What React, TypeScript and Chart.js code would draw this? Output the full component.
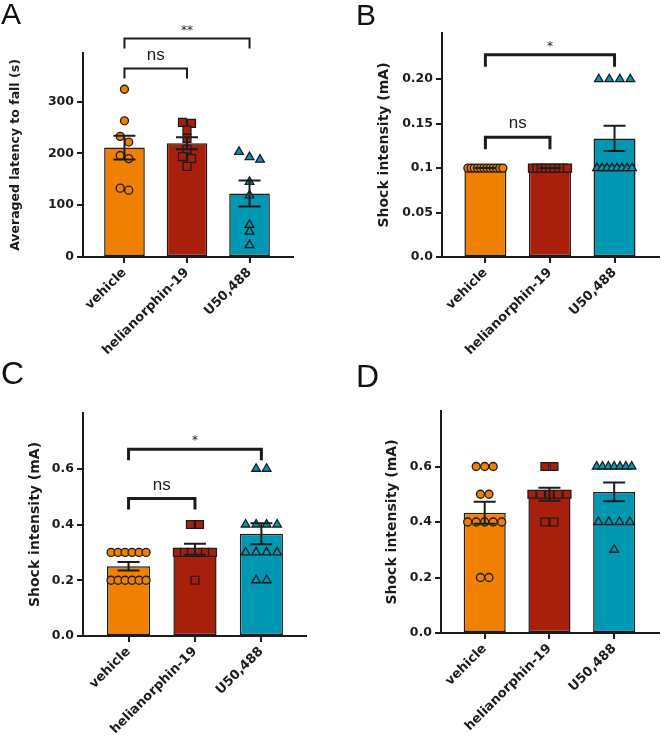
import React, { useEffect, useRef } from "react";
import { Chart, registerables } from "chart.js";

Chart.register(...registerables);

// ---------------- data ----------------
const categories = ["vehicle", "helianorphin-19", "U50,488"];

// Panel A: averaged latency to fall (s)
const latencyVehicle = [324, 263, 233, 222, 196, 190, 133, 129];
const latencyHelianorphin = [260, 258, 245, 229, 208, 194, 190, 175];
const latencyU50488 = [203, 193, 188, 145, 119, 62, 49, 23];
const latencyTickValues = [0, 100, 200, 300];
const latencyTickLabels = ["0", "100", "200", "300"];

// Panel B: shock intensity (mA)
const shockBVehicle = [0.1, 0.1, 0.1, 0.1, 0.1, 0.1, 0.1, 0.1, 0.1, 0.1, 0.1, 0.1];
const shockBHelianorphin = [0.1, 0.1, 0.1, 0.1, 0.1, 0.1, 0.1, 0.1, 0.1];
const shockBU50488 = [0.2, 0.2, 0.2, 0.2, 0.1, 0.1, 0.1, 0.1, 0.1, 0.1, 0.1, 0.1];
const shockBTickValues = [0, 0.05, 0.1, 0.15, 0.2];
const shockBTickLabels = ["0.0", "0.05", "0.1", "0.15", "0.20"];

// Panel C: shock intensity (mA)
const shockCVehicle = [0.3, 0.3, 0.3, 0.3, 0.3, 0.3, 0.2, 0.2, 0.2, 0.2, 0.2, 0.2];
const shockCHelianorphin = [0.4, 0.4, 0.3, 0.3, 0.3, 0.3, 0.3, 0.3, 0.2];
const shockCU50488 = [0.6, 0.6, 0.4, 0.4, 0.4, 0.4, 0.3, 0.3, 0.3, 0.3, 0.2, 0.2];

// Panel D: shock intensity (mA)
const shockDVehicle = [0.6, 0.6, 0.6, 0.5, 0.5, 0.4, 0.4, 0.4, 0.4, 0.4, 0.2, 0.2];
const shockDHelianorphin = [0.6, 0.6, 0.5, 0.5, 0.5, 0.5, 0.5, 0.4, 0.4];
const shockDU50488 = [0.6, 0.6, 0.6, 0.6, 0.6, 0.6, 0.6, 0.4, 0.4, 0.4, 0.4, 0.3];

const shockCDTickValues = [0, 0.2, 0.4, 0.6];
const shockCDTickLabels = ["0.0", "0.2", "0.4", "0.6"];

// significance brackets (from group, to group, height in data units, label)
const bracketsA = [
  { from: 0, to: 1, y: 364, label: "ns" },
  { from: 0, to: 2, y: 422, label: "**" },
];
const bracketsB = [
  { from: 0, to: 1, y: 0.1346, label: "ns" },
  { from: 0, to: 2, y: 0.2274, label: "*" },
];
const bracketsC = [
  { from: 0, to: 1, y: 0.493, label: "ns" },
  { from: 0, to: 2, y: 0.67, label: "*" },
];

// ---------------- styles / layout ----------------
const EDGE = "#1c1c1c";
const GROUP_STYLES = [
  { color: "#F08000", shape: "circle", radius: 4, spacing: 8.5 },
  { color: "#A81F0C", shape: "rect", radius: 5.6, spacing: 9 },
  { color: "#0097B3", shape: "triangle", radius: 5, spacing: 10.5 },
];
const TICK_FONT = { family: "'DejaVu Sans', sans-serif", size: 12.5, weight: "bold" as const };
const XLABEL_FONT = { family: "'DejaVu Sans', sans-serif", size: 13, weight: "bold" as const };

type PanelCfg = {
  letter: string;
  letterPos: { left: number; top: number; size: number };
  area: { left: number; top: number; right: number; bottom: number };
  yAxisWidth: number;
  yMax: number;
  xMin: number;
  xMax: number;
  groups: number[][];
  tickValues: number[];
  tickLabels: string[];
  title: string;
  titleSize: number;
  brackets: { from: number; to: number; y: number; label: string }[];
  bracketLine: number;
  bracketLeg: number;
};

const PANELS: PanelCfg[] = [
  {
    letter: "A",
    letterPos: { left: 1, top: -1, size: 30 },
    area: { left: 83, top: 53, right: 293, bottom: 257 },
    yAxisWidth: 75,
    yMax: 394,
    xMin: -0.663,
    xMax: 2.695,
    groups: [latencyVehicle, latencyHelianorphin, latencyU50488],
    tickValues: latencyTickValues,
    tickLabels: latencyTickLabels,
    title: "Averaged latency to fall (s)",
    titleSize: 12.5,
    brackets: bracketsA,
    bracketLine: 2,
    bracketLeg: 10,
  },
  {
    letter: "B",
    letterPos: { left: 356, top: 0, size: 30 },
    area: { left: 442, top: 33, right: 666, bottom: 257 },
    yAxisWidth: 66,
    yMax: 0.252,
    xMin: -0.672,
    xMax: 2.69,
    groups: [shockBVehicle, shockBHelianorphin, shockBU50488],
    tickValues: shockBTickValues,
    tickLabels: shockBTickLabels,
    title: "Shock intensity (mA)",
    titleSize: 14,
    brackets: bracketsB,
    bracketLine: 3,
    bracketLeg: 12,
  },
  {
    letter: "C",
    letterPos: { left: 1, top: 357, size: 32 },
    area: { left: 83, top: 413, right: 306, bottom: 636 },
    yAxisWidth: 56,
    yMax: 0.8,
    xMin: -0.686,
    xMax: 2.672,
    groups: [shockCVehicle, shockCHelianorphin, shockCU50488],
    tickValues: shockCDTickValues,
    tickLabels: shockCDTickLabels,
    title: "Shock intensity (mA)",
    titleSize: 14,
    brackets: bracketsC,
    bracketLine: 3,
    bracketLeg: 11,
  },
  {
    letter: "D",
    letterPos: { left: 356, top: 360, size: 32 },
    area: { left: 441, top: 411, right: 666, bottom: 633 },
    yAxisWidth: 57,
    yMax: 0.8,
    xMin: -0.675,
    xMax: 2.694,
    groups: [shockDVehicle, shockDHelianorphin, shockDU50488],
    tickValues: shockCDTickValues,
    tickLabels: shockCDTickLabels,
    title: "Shock intensity (mA)",
    titleSize: 14,
    brackets: [],
    bracketLine: 3,
    bracketLeg: 11,
  },
];

const CANVAS_W = 666;
const CANVAS_H = 746;
const X_AXIS_HEIGHT = 100;

function mean(v: number[]) {
  return v.reduce((a, b) => a + b, 0) / v.length;
}
function sem(v: number[]) {
  const m = mean(v);
  if (v.length < 2) return 0;
  const ss = v.reduce((a, b) => a + (b - m) * (b - m), 0);
  return Math.sqrt(ss / (v.length - 1)) / Math.sqrt(v.length);
}

// horizontal row layout of points sharing (almost) the same value
function rowOffsets(values: number[], toPx: (v: number) => number, spacing: number, maxSpread: number) {
  const order = values.map((_, i) => i).sort((a, b) => values[b] - values[a]);
  const offsets = new Array(values.length).fill(0);
  let row: number[] = [];
  let last: number | null = null;
  const flush = () => {
    const n = row.length;
    const s = n > 1 ? Math.min(spacing, maxSpread / (n - 1)) : 0;
    row.forEach((k, j) => {
      offsets[k] = (j - (n - 1) / 2) * s;
    });
    row = [];
  };
  for (const k of order) {
    const py = toPx(values[k]);
    if (last !== null && Math.abs(py - last) >= 6) flush();
    row.push(k);
    last = py;
  }
  flush();
  return offsets;
}

function Panel({ cfg }: { cfg: PanelCfg }) {
  const ref = useRef<HTMLCanvasElement>(null);
  useEffect(() => {
    const canvas = ref.current;
    if (!canvas) return;
    const { area } = cfg;

    const semPlugin = {
      id: "semBars",
      afterDatasetsDraw(chart: any) {
        const { ctx } = chart;
        const xs = chart.scales.x;
        const ys = chart.scales.y;
        ctx.save();
        ctx.strokeStyle = EDGE;
        ctx.lineWidth = 2;
        cfg.groups.forEach((vals, i) => {
          const m = mean(vals);
          const s = sem(vals);
          const x = xs.getPixelForValue(i);
          const yt = ys.getPixelForValue(m + s);
          const yb = ys.getPixelForValue(m - s);
          const cw = 11;
          ctx.beginPath();
          ctx.moveTo(x, yt);
          ctx.lineTo(x, yb);
          ctx.moveTo(x - cw, yt);
          ctx.lineTo(x + cw, yt);
          ctx.moveTo(x - cw, yb);
          ctx.lineTo(x + cw, yb);
          ctx.stroke();
        });
        ctx.restore();
      },
    };

    const bracketPlugin = {
      id: "brackets",
      afterDraw(chart: any) {
        const { ctx } = chart;
        const xs = chart.scales.x;
        const ys = chart.scales.y;
        ctx.save();
        ctx.strokeStyle = EDGE;
        ctx.fillStyle = EDGE;
        ctx.lineWidth = cfg.bracketLine;
        ctx.lineJoin = "miter";
        cfg.brackets.forEach((b) => {
          const x0 = xs.getPixelForValue(b.from);
          const x1 = xs.getPixelForValue(b.to);
          const y = ys.getPixelForValue(b.y);
          ctx.beginPath();
          ctx.moveTo(x0, y + cfg.bracketLeg);
          ctx.lineTo(x0, y);
          ctx.lineTo(x1, y);
          ctx.lineTo(x1, y + cfg.bracketLeg);
          ctx.stroke();
          ctx.textAlign = "center";
          ctx.textBaseline = "alphabetic";
          if (b.label === "ns") {
            ctx.font = "17px 'Liberation Sans', Arial, sans-serif";
            ctx.fillText(b.label, (x0 + x1) / 2, y - 9);
          } else {
            ctx.font = "12px 'DejaVu Sans', sans-serif";
            ctx.fillText(b.label, (x0 + x1) / 2, y - 5);
          }
        });
        ctx.restore();
      },
    };

    const chart = new Chart(canvas, {
      type: "bar",
      data: {
        datasets: [
          {
            type: "bar",
            data: cfg.groups.map((g, i) => ({ x: i, y: mean(g) })),
            backgroundColor: GROUP_STYLES.map((s) => s.color),
            borderColor: EDGE,
            borderWidth: 1.5,
            borderSkipped: false,
            barPercentage: 0.65,
            categoryPercentage: 1,
            order: 2,
          } as any,
          ...cfg.groups.map(
            (g, i) =>
              ({
                type: "scatter",
                data: g.map((v) => ({ x: i, y: v })),
                pointStyle: GROUP_STYLES[i].shape,
                pointRadius: GROUP_STYLES[i].radius,
                pointHoverRadius: GROUP_STYLES[i].radius,
                pointBackgroundColor: GROUP_STYLES[i].color,
                pointBorderColor: EDGE,
                pointBorderWidth: 1.3,
                showLine: false,
                clip: false,
                order: 1,
              }) as any
          ),
        ],
      },
      options: {
        responsive: false,
        animation: false,
        devicePixelRatio: 1,
        events: [],
        layout: {
          padding: {
            left: area.left - cfg.yAxisWidth,
            top: area.top,
            right: CANVAS_W - area.right,
            bottom: CANVAS_H - area.bottom - X_AXIS_HEIGHT,
          },
        },
        plugins: {
          legend: { display: false },
          tooltip: { enabled: false },
        },
        scales: {
          x: {
            type: "linear",
            min: cfg.xMin,
            max: cfg.xMax,
            offset: false,
            afterBuildTicks: (scale: any) => {
              scale.ticks = categories.map((_, i) => ({ value: i }));
            },
            afterFit: (scale: any) => {
              scale.height = X_AXIS_HEIGHT;
            },
            ticks: {
              autoSkip: false,
              minRotation: 45,
              maxRotation: 45,
              padding: 2,
              color: EDGE,
              font: XLABEL_FONT,
              callback: (_v: any, i: number) => categories[i],
            },
            grid: {
              display: true,
              offset: false,
              drawOnChartArea: false,
              drawTicks: true,
              tickLength: 6,
              color: EDGE,
              lineWidth: 2,
            },
            border: { display: true, color: EDGE, width: 2 },
          } as any,
          y: {
            type: "linear",
            min: 0,
            max: cfg.yMax,
            afterBuildTicks: (scale: any) => {
              scale.ticks = cfg.tickValues.map((v) => ({ value: v }));
            },
            afterFit: (scale: any) => {
              scale.width = cfg.yAxisWidth;
            },
            ticks: {
              padding: 3,
              color: EDGE,
              font: TICK_FONT,
              callback: (_v: any, i: number) => cfg.tickLabels[i],
            },
            grid: {
              display: true,
              drawOnChartArea: false,
              drawTicks: true,
              tickLength: 6,
              color: EDGE,
              lineWidth: 2,
            },
            border: { display: true, color: EDGE, width: 2 },
            title: {
              display: true,
              text: cfg.title,
              color: EDGE,
              padding: 0,
              font: { family: "'DejaVu Sans', sans-serif", size: cfg.titleSize, weight: "bold" },
            },
          } as any,
        },
      },
      plugins: [semPlugin, bracketPlugin],
    });

    // second pass: spread points that share a value into horizontal rows
    const xs: any = chart.scales.x;
    const ys: any = chart.scales.y;
    const pxPerX = xs.getPixelForValue(1) - xs.getPixelForValue(0);
    cfg.groups.forEach((vals, i) => {
      const offs = rowOffsets(vals, (v) => ys.getPixelForValue(v), GROUP_STYLES[i].spacing, 35);
      (chart.data.datasets[i + 1] as any).data = vals.map((v, k) => ({ x: i + offs[k] / pxPerX, y: v }));
    });
    chart.update("none");

    return () => chart.destroy();
  }, [cfg]);

  return (
    <>
      <canvas
        ref={ref}
        width={CANVAS_W}
        height={CANVAS_H}
        style={{ position: "absolute", left: 0, top: 0, width: CANVAS_W, height: CANVAS_H }}
      />
      <div
        style={{
          position: "absolute",
          left: cfg.letterPos.left,
          top: cfg.letterPos.top,
          font: `${cfg.letterPos.size}px 'Liberation Sans', Arial, sans-serif`,
          lineHeight: `${cfg.letterPos.size}px`,
          color: "#111",
        }}
      >
        {cfg.letter}
      </div>
    </>
  );
}

export default function App() {
  return (
    <div
      style={{
        position: "absolute",
        left: 0,
        top: 0,
        width: CANVAS_W,
        height: CANVAS_H,
        background: "#fff",
        overflow: "hidden",
      }}
    >
      {PANELS.map((p) => (
        <Panel key={p.letter} cfg={p} />
      ))}
    </div>
  );
}
